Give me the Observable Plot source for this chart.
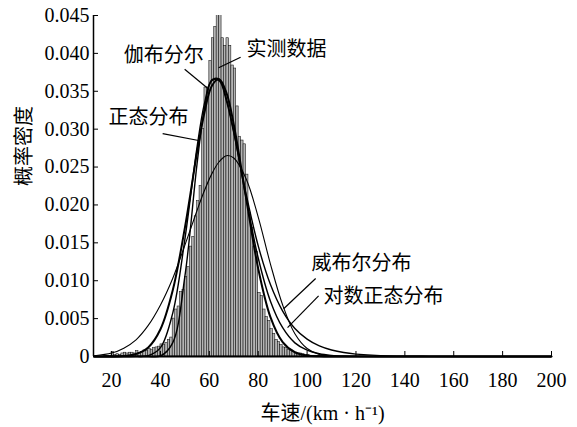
<!DOCTYPE html>
<html><head><meta charset="utf-8">
<script src="https://cdn.jsdelivr.net/npm/d3@7"></script>
<script src="https://cdn.jsdelivr.net/npm/@observablehq/plot@0.6"></script>
<style>body{margin:0;background:#fff}</style>
</head><body><div id="chart"></div>
<script>
// Histogram (observed data): bin start speed (km/h), bin width 1
const binStart = [17,18,19,20,21,22,23,24,25,26,27,28,29,30,31,32,33,34,35,36,37,38,39,40,41,42,43,44,45,46,47,48,49,50,51,52,53,54,55,56,57,58,59,60,61,62,63,64,65,66,67,68,69,70,71,72,73,74,75,76,77,78,79,80,81,82,83,84,85,86,87,88,89,90,91,92,93,94,95,96,97,98,99,100,101,102,103,104,105,106,107,108];
const density = [0.0001,0.0001,0.0001,0.0006,0.0002,0.0003,0.0002,0.0004,0.0005,0.0004,0.0005,0.0005,0.0004,0.0007,0.0005,0.0006,0.0008,0.0007,0.0010,0.0009,0.0011,0.0012,0.0013,0.0016,0.0015,0.0018,0.0022,0.0025,0.0050,0.0062,0.0066,0.0085,0.0088,0.0105,0.0118,0.0145,0.0158,0.0185,0.0205,0.0225,0.0300,0.0355,0.0355,0.0390,0.0420,0.0435,0.0460,0.0460,0.0420,0.0410,0.0420,0.0410,0.0384,0.0380,0.0330,0.0290,0.0285,0.0280,0.0240,0.0190,0.0170,0.0145,0.0138,0.0084,0.0080,0.0062,0.0052,0.0047,0.0036,0.0030,0.0022,0.0019,0.0015,0.0012,0.0011,0.0009,0.0008,0.0006,0.0005,0.0004,0.0004,0.0003,0.0002,0.0002,0.0001,0.0001,0.0001,0.0001,0.0001,0.0001,0.0001,0.0001];

// Fitted curves, read at these speeds
const curveX    = [13,20,25,30,35,40,45,50,55,58,61,64,67,70,75,80,85,90,95,100,105,110,115,120,130,150,200];
const normalY   = [0,0.00001,0.00007,0.00033,0.0012,0.0036,0.0087,0.0170,0.0270,0.0322,0.0357,0.0366,0.0348,0.0306,0.0210,0.0116,0.0052,0.0019,0.00056,0.00013,0.00003,0,0,0,0,0,0];
const lognormY  = [0,0,0,0.00001,0.00011,0.00117,0.0057,0.0155,0.0277,0.0334,0.0365,0.0366,0.0340,0.0297,0.0210,0.0130,0.0073,0.0038,0.0018,0.00083,0.00036,0.00015,0.00006,0.00003,0,0,0];
const gumbelY   = [0,0,0,0,0,0.00007,0.0018,0.0106,0.0255,0.0327,0.0364,0.0364,0.0337,0.0295,0.0215,0.0146,0.0095,0.0060,0.0037,0.0023,0.0014,0.00086,0.00052,0.00032,0.00012,0.00002,0];
const weibullY  = [0.0001,0.00045,0.0011,0.0022,0.0041,0.0068,0.0103,0.0147,0.0193,0.0219,0.0241,0.0257,0.0265,0.0262,0.0235,0.0184,0.0122,0.0068,0.0030,0.00105,0.00027,0.00005,0,0,0,0,0];

const xTicks = [20,40,60,80,100,120,140,160,180,200];
const yTicks = [0,0.005,0.010,0.015,0.020,0.025,0.030,0.035,0.040,0.045];
const xMin = 12.6;

const labelNames = ["伽布分尔","实测数据","正态分布","威布尔分布","对数正态分布"];
// annotation anchors (data units): label centre, leader start, leader end
const labelX  = [41.3, 91.6, 35.1, 122.3, 131.3];
const labelY  = [0.0397, 0.0405, 0.0315, 0.0123, 0.0079];
const leadX1  = [49.9, 72.8, 40.9, 103.5, 104.7];
const leadY1  = [0.0379, 0.0395, 0.0294, 0.0103, 0.0080];
const leadX2  = [59.3, 63.8, 55.6, 90.4, 92.0];
const leadY2  = [0.0354, 0.0381, 0.0285, 0.0063, 0.0038];

const bars = binStart.map((b, i) => ({x1: b, x2: b + 1, y: density[i]}));
const mk = ys => curveX.map((x, i) => ({x, y: ys[i]}));
const ann = labelNames.map((t, i) => ({t, x: labelX[i], y: labelY[i], x1: leadX1[i], y1: leadY1[i], x2: leadX2[i], y2: leadY2[i]}));

const serif = '"Liberation Serif", "Times New Roman", serif';
const cjk = '"Noto Sans CJK SC", sans-serif';

const chart = Plot.plot({
  width: 577, height: 427,
  marginLeft: 93, marginRight: 26, marginTop: 15, marginBottom: 71,
  style: {fontFamily: serif, fontSize: "20px", color: "#000", background: "#fff"},
  x: {domain: [xMin, 200]},
  y: {domain: [0, 0.045]},
  marks: [
    Plot.rectY(bars, {x1: "x1", x2: "x2", y: "y", fill: "#b4b4b4", stroke: "#111", strokeWidth: 0.55, clip: true}),
    Plot.line(mk(weibullY), {x: "x", y: "y", stroke: "#000", strokeWidth: 1.1, curve: "catmull-rom"}),
    Plot.line(mk(gumbelY), {x: "x", y: "y", stroke: "#000", strokeWidth: 1.4, curve: "catmull-rom"}),
    Plot.line(mk(lognormY), {x: "x", y: "y", stroke: "#000", strokeWidth: 1.4, curve: "catmull-rom"}),
    Plot.line(mk(normalY), {x: "x", y: "y", stroke: "#000", strokeWidth: 2, curve: "catmull-rom"}),
    Plot.ruleY([0], {stroke: "#000", strokeWidth: 2}),
    Plot.ruleX([xMin], {stroke: "#000", strokeWidth: 1.5}),
    Plot.axisX({ticks: xTicks, tickSize: -5, tickPadding: 21, tickFormat: d => String(d), fontSize: 20, fontFamily: serif, label: null}),
    Plot.axisY({ticks: yTicks, tickSize: -5, tickPadding: 9, tickFormat: d => d === 0 ? "0" : d.toFixed(3), fontSize: 20, fontFamily: serif, label: null}),
    Plot.link(ann, {x1: "x1", y1: "y1", x2: "x2", y2: "y2", stroke: "#000", strokeWidth: 1.2}),
    Plot.text(ann, {x: "x", y: "y", text: "t", fontFamily: cjk, fontSize: 20, fill: "#000"}),
    Plot.text(["概率密度"], {frameAnchor: "left", dx: -69, rotate: -90, fontFamily: cjk, fontSize: 20, fill: "#000"}),
    Plot.text(["车速/(km · h⁻¹)"], {frameAnchor: "bottom", dy: 63, fontFamily: '"Liberation Serif", "Noto Sans CJK SC", serif', fontSize: 20, fill: "#000"})
  ]
});
document.getElementById("chart").appendChild(chart);
</script>
</body></html>
